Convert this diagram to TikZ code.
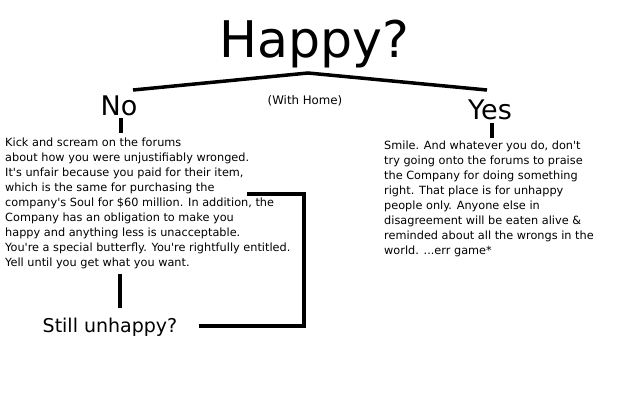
\documentclass[tikz,border=0pt]{standalone}
\usepackage{fontspec}
\setmainfont{DejaVu Sans}
\newcommand{\q}{\textquotesingle}
\begin{document}
\begin{tikzpicture}[x=1pt,y=-1pt,
  thick line/.style={line width=3.5pt,line cap=butt},
  body/.style={anchor=north west,inner sep=0pt,align=left,font=\fontsize{11.3}{15}\selectfont},
  big/.style={inner sep=0pt,font=\fontsize{27}{30}\selectfont}]
\useasboundingbox[fill=white] (0,0) rectangle (640,400);
\node[inner sep=0pt,font=\fontsize{50.5}{56}\selectfont] (title) at (314,44) {Happy?};
\coordinate (apex) at (308,73);
\coordinate (lend) at (133,90);
\coordinate (rend) at (487,90);
\draw[thick line] (lend) -- (apex) -- (rend);
\node[big] (no) at (119,106) {No};
\node[big] (yes) at (490,110) {Yes};
\node[inner sep=0pt,font=\fontsize{11.8}{13}\selectfont] (home) at (305,101) {(With Home)};
\coordinate (nt1) at (121,118); \coordinate (nt2) at (121,133);
\draw[thick line] (nt1) -- (nt2);
\coordinate (yt1) at (492,123); \coordinate (yt2) at (492,138);
\draw[thick line] (yt1) -- (yt2);
\node[body] (left) at (5,138) {Kick and scream on the forums\\
about how you were unjustifiably wronged.\\
It\q s unfair because you paid for their item,\\
which is the same for purchasing the\\
company\q s Soul for \$60 million. In addition, the\\
Company has an obligation to make you\\
happy and anything less is unacceptable.\\
You\q re a special butterfly. You\q re rightfully entitled.\\
Yell until you get what you want.};
\node[body] (right) at (384,141) {Smile. And whatever you do, don\q t\\
try going onto the forums to praise\\
the Company for doing something\\
right. That place is for unhappy\\
people only. Anyone else in\\
disagreement will be eaten alive \&\\
reminded about all the wrongs in the\\
world. ...err game*};
\coordinate (v1) at (120,274); \coordinate (v2) at (120,308);
\draw[thick line] (v1) -- (v2);
\node[inner sep=0pt,font=\fontsize{19}{22}\selectfont] (still) at (110,327) {Still unhappy?};
\coordinate (b1) at (247,194);
\coordinate (b2) at (304,194);
\coordinate (b3) at (304,326);
\coordinate (b4) at (199,326);
\draw[line width=4pt,line join=miter] (b1) -- (b2) -- (b3) -- (b4);
\end{tikzpicture}
\end{document}
